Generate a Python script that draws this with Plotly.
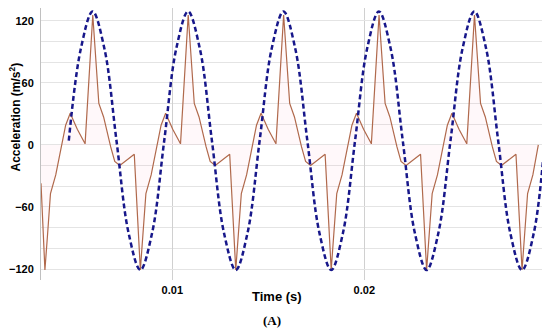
import plotly.graph_objects as go

# Measured waveform (brown line)
meas_t = [
    0.003161,
    0.003365, 0.003497, 0.003655, 0.003929, 0.004156, 0.004314, 0.004445, 0.004683, 0.005052,
    0.005457, 0.005858, 0.006174, 0.006422, 0.006791, 0.007002, 0.007265, 0.007581, 0.008019,
    0.008335, 0.008467, 0.008625, 0.008899, 0.009126, 0.009284, 0.009415, 0.009653, 0.010022,
    0.010427, 0.010828, 0.011144, 0.011392, 0.011761, 0.011972, 0.012235, 0.012551, 0.012989,
    0.013305, 0.013437, 0.013595, 0.013869, 0.014096, 0.014254, 0.014385, 0.014623, 0.014992,
    0.015397, 0.015798, 0.016114, 0.016362, 0.016731, 0.016942, 0.017205, 0.017521, 0.017959,
    0.018275, 0.018407, 0.018565, 0.018839, 0.019066, 0.019224, 0.019355, 0.019593, 0.019962,
    0.020367, 0.020768, 0.021084, 0.021332, 0.021701, 0.021912, 0.022175, 0.022491, 0.022929,
    0.023245, 0.023377, 0.023535, 0.023809, 0.024036, 0.024194, 0.024325, 0.024563, 0.024932,
    0.025337, 0.025738, 0.026054, 0.026302, 0.026671, 0.026882, 0.027145, 0.027461, 0.027899,
    0.028215, 0.028347, 0.028505, 0.028779, 0.029063,
]
meas_a = [
    -37,
    -121, -88, -47, -29, -7, 9, 19, 30.5, 15,
    1, 125.5, 40, 27, -2, -16, -20, -15, -9,
    -121, -88, -47, -29, -7, 9, 19, 30.5, 15,
    1, 125.5, 40, 27, -2, -16, -20, -15, -9,
    -121, -88, -47, -29, -7, 9, 19, 30.5, 15,
    1, 125.5, 40, 27, -2, -16, -20, -15, -9,
    -121, -88, -47, -29, -7, 9, 19, 30.5, 15,
    1, 125.5, 40, 27, -2, -16, -20, -15, -9,
    -121, -88, -47, -29, -7, 9, 19, 30.5, 15,
    1, 125.5, 40, 27, -2, -16, -20, -15, -9,
    -121, -88, -47, -29, 0,
]

# Reference sinusoid (dashed navy line)
ref_t = [
    0.004608, 0.005229, 0.005850, 0.006471, 0.007093, 0.007714, 0.008335, 0.008956,
    0.009578, 0.010199, 0.010820, 0.011441, 0.012063, 0.012684, 0.013305, 0.013926,
    0.014548, 0.015169, 0.015790, 0.016411, 0.017033, 0.017654, 0.018275, 0.018896,
    0.019518, 0.020139, 0.020760, 0.021381, 0.022003, 0.022624, 0.023245, 0.023866,
    0.024488, 0.025109, 0.025730, 0.026351, 0.026973, 0.027594, 0.028215, 0.028836,
    0.029320,
]
ref_a = [
    4, 92.4, 129, 92.4, 4, -84.4, -121, -84.4,
    4, 92.4, 129, 92.4, 4, -84.4, -121, -84.4,
    4, 92.4, 129, 92.4, 4, -84.4, -121, -84.4,
    4, 92.4, 129, 92.4, 4, -84.4, -121, -84.4,
    4, 92.4, 129, 92.4, 4, -84.4, -121, -84.4,
    -13,
]

x_tick_vals = [0.01, 0.02]
x_tick_text = ["0.01", "0.02"]
y_tick_step = 60
y_grid_step = 20

fig = go.Figure()
fig.add_trace(go.Scatter(
    x=meas_t, y=meas_a, mode="lines",
    line=dict(color="#b0694c", width=1.2),
    fill="tozeroy", fillcolor="rgba(255,150,180,0.07)",
    showlegend=False,
))
fig.add_trace(go.Scatter(
    x=ref_t, y=ref_a, mode="lines",
    line=dict(color="#17178a", width=2.5, dash="5px,3px", shape="spline"),
    showlegend=False,
))

# The page body adds an 8 px offset; figure is sized to fit the 550x330 window.
OFF = 8
W, H = 550 - OFF, 330 - OFF
ml, mr, mt, mb = 33, 5, 0, 50
pw, ph = W - ml - mr, H - mt - mb

def px(x):  # page pixel -> paper x
    return (x - OFF - ml) / pw

def py(y):  # page pixel -> paper y
    return (H - mb - (y - OFF)) / ph

bold = dict(family="Liberation Sans, Arial, sans-serif", size=11, color="#000", weight="bold")
title_font = dict(family="Liberation Sans, Arial, sans-serif", size=13, color="#000", weight="bold")

fig.update_layout(
    width=W, height=H,
    margin=dict(l=ml, r=mr, t=mt, b=mb, autoexpand=False),
    paper_bgcolor="white", plot_bgcolor="white",
    xaxis=dict(
        range=[0.003161, 0.029411],
        tickvals=x_tick_vals, ticktext=x_tick_text,
        showgrid=True, gridcolor="#d0d0d0", gridwidth=1,
        zeroline=False, showline=False, ticks="",
        tickfont=bold, ticklabelstandoff=2, automargin=False,
    ),
    yaxis=dict(
        range=[-130.6, 132.3],
        tick0=0, dtick=y_tick_step,
        showgrid=True, gridcolor="#e4e4e4", gridwidth=1,
        minor=dict(tick0=0, dtick=y_grid_step, showgrid=True, gridcolor="#e4e4e4", gridwidth=1, ticks=""),
        zeroline=False, showline=True, linecolor="#c0c0c0", linewidth=1,
        ticks="", tickfont=bold, ticklabelstandoff=4, automargin=False,
    ),
    annotations=[
        dict(text="Acceleration (m/s<sup>2</sup>)", xref="paper", yref="paper",
             x=px(14.5), y=py(117), textangle=-90, showarrow=False,
             xanchor="center", yanchor="middle",
             font=dict(family="Liberation Sans, Arial, sans-serif", size=12, color="#000", weight="bold")),
        dict(text="Time (s)", xref="paper", yref="paper",
             x=px(277), y=py(296), showarrow=False,
             xanchor="center", yanchor="middle", font=title_font),
        dict(text="(A)", xref="paper", yref="paper",
             x=px(272), y=py(320.5), showarrow=False,
             xanchor="center", yanchor="middle",
             font=dict(family="Liberation Serif, Times New Roman, serif", size=13, color="#000", weight="bold")),
    ],
)

fig.write_html("out.html")
